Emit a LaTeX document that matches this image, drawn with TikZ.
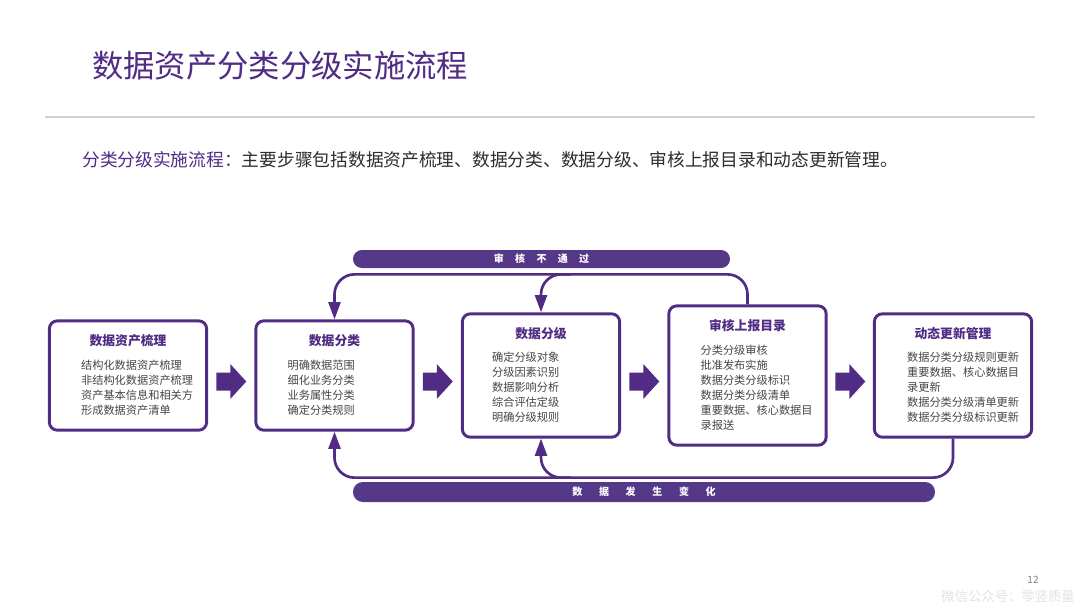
\documentclass[tikz,border=0pt]{standalone}
\usepackage{fontspec}
\setmainfont{Noto Sans CJK SC}
\usetikzlibrary{calc,arrows.meta}

\definecolor{deep}{RGB}{80,44,132}
\definecolor{band}{RGB}{86,56,136}
\definecolor{ink}{RGB}{70,70,70}
\definecolor{darkink}{RGB}{45,45,45}

\newcommand{\tgap}{\hspace{8.5pt}}
\newcommand{\bgap}{\hspace{12.5pt}}

\tikzset{
  bigarrow/.pic={
    \fill[deep] (-15,-9) -- (-1,-9) -- (-1,-17.5) -- (15,0) -- (-1,17.5) -- (-1,9) -- (-15,9) -- cycle;
  }
}

\begin{document}
\begin{tikzpicture}[x=0.75pt, y=-0.75pt,
    box/.style={draw=deep, line width=2.2pt, rounded corners=6pt, fill=white,
      minimum width=118pt, inner sep=0pt},
    boxtitle/.style={text=deep, font=\fontsize{9.6pt}{11pt}\selectfont\bfseries, inner sep=0pt},
    boxitems/.style={text=ink, font=\fontsize{8.4pt}{11.25pt}\selectfont, align=left,
      anchor=north west, inner sep=0pt},
    banner/.style={fill=band, text=white, inner sep=0pt,
      font=\fontsize{7.5pt}{9pt}\selectfont\bfseries},
    flow/.style={draw=deep, line width=2pt, rounded corners=15pt,
      -{Triangle[width=9pt, length=13pt]}}]
  \useasboundingbox[fill=white] (0,0) rectangle (1080,608);

  \node[anchor=west, text=deep, inner sep=0pt, font=\fontsize{23.5pt}{28pt}\selectfont] (head) at (92,66) {数据资产分类分级实施流程};
  \draw[gray!35, line width=1.1pt] (45,117) -- (1035,117);
  \node[anchor=west, inner sep=0pt, font=\fontsize{13.3pt}{16pt}\selectfont] (intro) at (82,160)
    {\textcolor{deep}{分类分级实施流程：}\textcolor{darkink}{主要步骤包括数据资产梳理、数据分类、数据分级、审核上报目录和动态更新管理。}};

  \node[box, minimum height=82pt] (s1) at (128,375.5) {};
  \node[box, minimum height=82pt] (s2) at (334.5,375.5) {};
  \node[box, minimum height=92.5pt] (s3) at (541,375.5) {};
  \node[box, minimum height=104.5pt] (s4) at (747.5,375.5) {};
  \node[box, minimum height=92.5pt] (s5) at (953,375.5) {};

  \node[boxtitle] (t1) at ($(s1.north)+(0,21)$) {数据资产梳理};
  \node[boxtitle] (t2) at ($(s2.north)+(0,21)$) {数据分类};
  \node[boxtitle] (t3) at ($(s3.north)+(0,21)$) {数据分级};
  \node[boxtitle] (t4) at ($(s4.north)+(0,21)$) {审核上报目录};
  \node[boxtitle] (t5) at ($(s5.north)+(0,21)$) {动态更新管理};

  \node[boxitems] (l1) at ($(s1.north west)+(33,40.5)$) {结构化数据资产梳理\\非结构化数据资产梳理\\资产基本信息和相关方\\形成数据资产清单};
  \node[boxitems] (l2) at ($(s2.north west)+(33,40.5)$) {明确数据范围\\细化业务分类\\业务属性分类\\确定分类规则};
  \node[boxitems] (l3) at ($(s3.north west)+(31,39.5)$) {确定分级对象\\分级因素识别\\数据影响分析\\综合评估定级\\明确分级规则};
  \node[boxitems] (l4) at ($(s4.north west)+(33,40.5)$) {分类分级审核\\批准发布实施\\数据分类分级标识\\数据分类分级清单\\重要数据、核心数据目\\录报送};
  \node[boxitems] (l5) at ($(s5.north west)+(34,39.5)$) {数据分类分级规则更新\\重要数据、核心数据目\\录更新\\数据分类分级清单更新\\数据分类分级标识更新};

  \pic at ($(s1.east)!0.5!(s2.west)+(0,6)$) {bigarrow};
  \pic at ($(s2.east)!0.5!(s3.west)+(0,6)$) {bigarrow};
  \pic at ($(s3.east)!0.5!(s4.west)+(0,6)$) {bigarrow};
  \pic at ($(s4.east)!0.5!(s5.west)+(0,6)$) {bigarrow};

  \node[banner, minimum width=282.75pt, minimum height=13.5pt, rounded corners=6.7pt] (fail) at (541.5,259)
    {审\tgap 核\tgap 不\tgap 通\tgap 过};
  \node[banner, minimum width=436.5pt, minimum height=15pt, rounded corners=7.4pt] (change) at (644,492)
    {数\bgap 据\bgap 发\bgap 生\bgap 变\bgap 化};

  \draw[flow] (s4.north) |- ($(s2.north)+(0,-45)$) -- (s2.north);
  \draw[flow] ($(s3.north)+(30,-38)$) -| (s3.north);
  \draw[flow] (s5.south) |- ($(s2.south)+(0,46)$) -- (s2.south);
  \draw[flow] ($(s3.south)+(30,39)$) -| (s3.south);

  \node[text=gray, inner sep=0pt, font=\fontsize{7.5pt}{9pt}\selectfont] (page) at (1033,580) {12};
  \node[anchor=east, text=gray!22, inner sep=0pt, font=\fontsize{10pt}{12pt}\selectfont] (mark) at (1075,596) {微信公众号：零竖质量};
\end{tikzpicture}
\end{document}
